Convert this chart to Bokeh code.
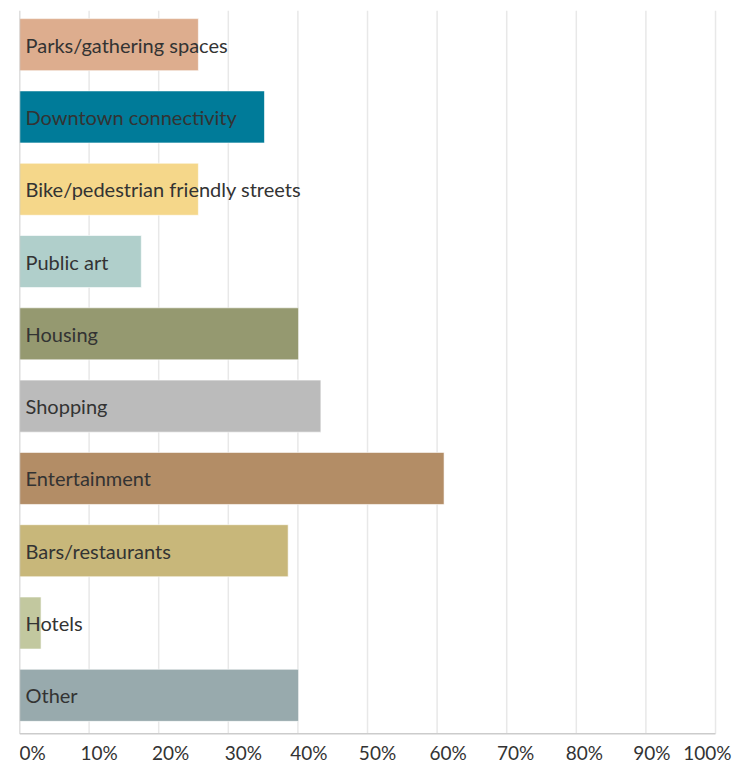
from bokeh.plotting import figure
from bokeh.models import Range1d
from bokeh.core.properties import value
from bokeh.embed import file_html
from bokeh.resources import INLINE

categories = ["Parks/gathering spaces", "Downtown connectivity", "Bike/pedestrian friendly streets",
              "Public art", "Housing", "Shopping", "Entertainment", "Bars/restaurants", "Hotels", "Other"]
shares = [0.257, 0.352, 0.257, 0.175, 0.401, 0.433, 0.61, 0.386, 0.031, 0.401]
colors = ["#DDAD8E", "#007B99", "#F5D78A", "#B0CFCB", "#959970", "#BBBBBB", "#B38D66",
          "#C8B77A", "#C2C89F", "#98AAAD"]
tick_values = [0, 0.1, 0.2, 0.3, 0.4, 0.5, 0.6, 0.7, 0.8, 0.9, 1.0]
tick_labels = ["0%", "10%", "20%", "30%", "40%", "50%", "60%", "70%", "80%", "90%", "100%"]

n = len(categories)
ypos = list(range(n))  # 0 = top category
bottom = n - 0.5

p = figure(width=732, height=763, output_backend="svg", toolbar_location=None,
           y_range=Range1d(bottom + 0.443, -0.5),
           x_range=Range1d(0, 1.0244),
           min_border_left=19, min_border_right=0, min_border_top=8, min_border_bottom=0)
p.outline_line_color = None
p.background_fill_color = "white"
p.border_fill_color = "white"
p.xaxis.visible = False
p.yaxis.visible = False
p.xgrid.grid_line_color = None
p.ygrid.grid_line_color = None

# vertical gridlines
p.segment(x0=tick_values, y0=[-0.47] * len(tick_values), x1=tick_values, y1=[bottom + 0.03] * len(tick_values),
          line_color="#e8e8e8", line_width=1.5)

p.hbar(y=ypos, right=shares, left=0, height=0.72, fill_color=colors,
       line_color="white", line_alpha=0.6, line_width=1)

# axis lines
p.segment(x0=[0], y0=[-0.47], x1=[0], y1=[bottom + 0.03], line_color="#cccccc", line_width=1.5)
p.segment(x0=[0], y0=[bottom + 0.03], x1=[1], y1=[bottom + 0.03], line_color="#cccccc", line_width=1.5)

p.text(x=[0] * n, y=ypos, text=categories, x_offset=6,
       text_baseline="middle", text_align="left", text_font=value("Lato"),
       text_font_size="20px", text_color="#333333")

aligns = ["left"] + ["center"] * (len(tick_values) - 2) + ["right"]
offsets = [0] + [10, 12, 15, 11, 10, 11, 9, 8, 6] + [16]
p.text(x=tick_values, y=[bottom] * len(tick_values), text=tick_labels,
       text_align=aligns, x_offset=offsets, y_offset=21, text_baseline="middle",
       text_font=value("Lato"), text_font_size="19px", text_color="#333333")

open("out.html", "w").write(file_html(p, INLINE))
